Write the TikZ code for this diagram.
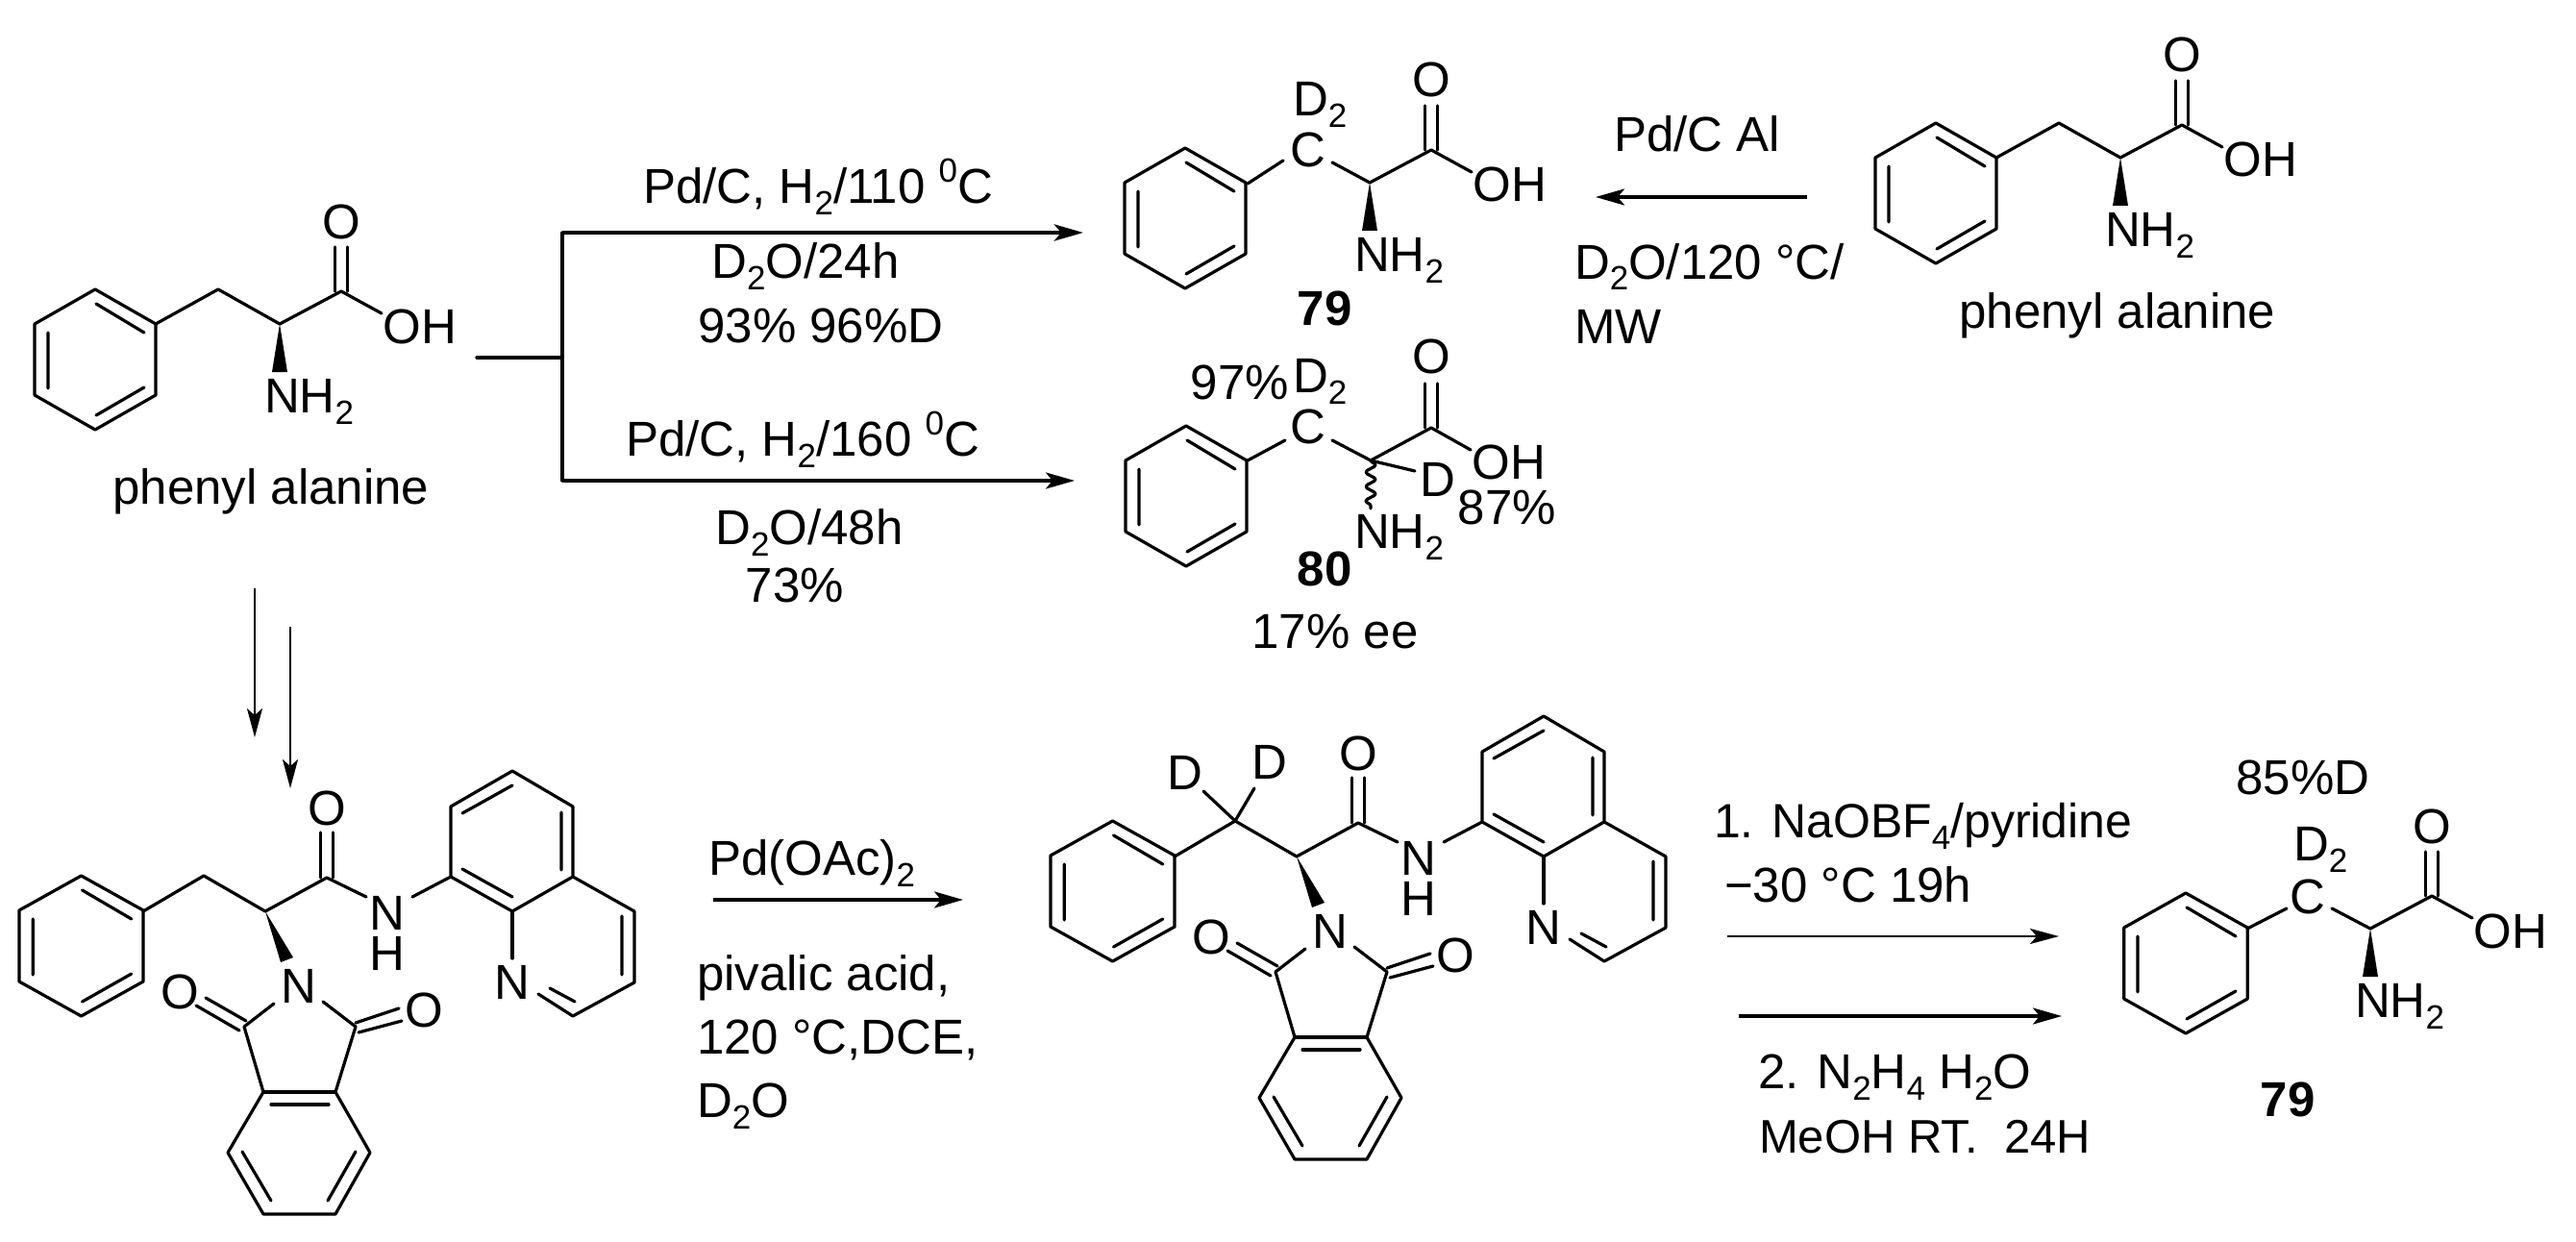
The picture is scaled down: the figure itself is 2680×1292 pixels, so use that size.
\documentclass[tikz,border=0pt]{standalone}
\usepackage{fontspec}
\setmainfont{Liberation Sans}
\usetikzlibrary{arrows.meta,decorations.pathmorphing}
\newcommand\subt[1]{\raisebox{-12pt}{\fontsize{35}{35}\selectfont #1}}
\newcommand\supt[1]{\raisebox{22pt}{\fontsize{35}{35}\selectfont #1}}
\tikzset{
  bond/.style={line width=3.2pt,line join=round,line cap=round,black},
  txt/.style={inner sep=0pt,outer sep=0pt,font=\fontsize{51}{60}\selectfont,anchor=base,black},
  txtl/.style={txt,anchor=base west},
  txtr/.style={txt,anchor=base east},
  tight/.style={txt,text height=36pt,text depth=0pt},
  arr/.style={line width=3.4pt,-{Stealth[length=30pt,width=17pt,inset=7pt]}},
  thinarr/.style={line width=2.4pt,-{Stealth[length=30pt,width=16pt,inset=7pt]}},
  fork/.style={line width=3.2pt,line cap=round}
}
% benzene ring: centre x, centre y, horizontal scale
\newcommand\phring[3]{%
  \begin{scope}[shift={(#1,#2)},xscale=#3]
    \draw[bond] (0,-73)--(63,-37)--(63,37)--(0,73)--(-63,37)--(-63,-37)--cycle;
    \draw[bond] (1,-58)--(51,-28) (-49,-28)--(-49,30) (1,58)--(51,29);
  \end{scope}}
% amino-acid end: prefix, dx, dy
\newcommand\acid[3]{%
  \begin{scope}[shift={(#2,#3)}]
    \draw[bond] (291,337)--(355,303)--(397,326);
    \draw[bond] (348.5,303)--(348.5,257) (361.5,303)--(361.5,257);
    \fill[black] (291,337)--(283,387)--(299,387)--cycle;
    \node[txt] (#1O) at (355,248) {O};
    \node[txt] (#1OH) at (437,357) {OH};
    \node[txtl] (#1N) at (275,429) {NH\subt{2}};
  \end{scope}}
% protected amide: prefix, dx, dy
\newcommand\amide[3]{%
  \begin{scope}[shift={(#2,#3)}]
    \phring{84.5}{984}{1.025}
    \draw[bond] (149,948)--(212,911)--(276,948)--(340,913)--(381,933);
    \draw[bond] (333.5,913)--(333.5,866) (346.5,913)--(346.5,866);
    \fill[black] (276,948)--(292,1001)--(305,996)--cycle;
    \draw[bond] (429,933)--(469,912);
    % quinoline
    \draw[bond] (469,912)--(469,839)--(533,802)--(596,839)--(596,912)--(533,948)--cycle;
    \draw[bond] (481,846)--(533,817) (584,845)--(584,905) (481,904)--(533,933);
    \draw[bond] (596,912)--(660,948)--(660,1022)--(596,1057)--(560,1034);
    \draw[bond] (647,953)--(647,1014) (572,1028)--(598,1042);
    \draw[bond] (533,948)--(533,997);
    % phthalimide
    \draw[bond] (285,1044)--(254,1068)--(274,1136)--(237,1199)--(274,1263)--(349,1263)--(385,1199)--(349,1136)--(370,1068)--(336,1042);
    \draw[bond] (274,1136)--(349,1136) (282,1149)--(342,1149);
    \draw[bond] (252,1198)--(282,1249) (341,1249)--(370,1198);
    \draw[bond] (214,1038)--(256,1062) (204,1046)--(249,1072);
    \draw[bond] (370,1064)--(415,1049) (373,1074)--(418,1062);
    \node[tight] (#1O) at (340,858) {O};
    \node[tight] (#1Nh) at (403,967) {N};
    \node[tight] (#1H) at (403,1009) {H};
    \node[tight] (#1Nq) at (533,1039) {N};
    \node[tight] (#1Ni) at (311,1043) {N};
    \node[tight] (#1Ol) at (187,1049) {O};
    \node[tight] (#1Or) at (441,1068) {O};
  \end{scope}}
\begin{document}
\begin{tikzpicture}[x=1pt,y=-1pt]
\useasboundingbox[fill=white] (0,0) rectangle (2680,1292);
% ---------- top-left phenylalanine
\phring{99}{374}{1}
\draw[bond] (162,337)--(227,301)--(291,337);
\acid{a}{0}{0}
\node[txt] (labA) at (282,524) {phenyl alanine};
% ---------- forked arrows
\coordinate (forkS) at (496,372);
\coordinate (forkM) at (585,372);
\coordinate (forkT) at (585,242);
\coordinate (forkB) at (585,500);
\coordinate (tipT) at (1127,242);
\coordinate (tipB) at (1118,500);
\draw[fork] (forkS)--(forkM);
\draw[fork] (forkT)--(forkB);
\draw[arr,line width=4.6pt] (forkT)--(tipT);
\draw[arr] (forkB)--(tipB);
\node[txt] (t1) at (851,212) {Pd/C, H\subt{2}/110 \supt{0}C};
\node[txt] (t2) at (838,289) {D\subt{2}O/24h};
\node[txt] (t3) at (854,356) {93\% 96\%D};
\node[txt] (t4) at (835,474) {Pd/C, H\subt{2}/160 \supt{0}C};
\node[txt] (t5) at (842,566) {D\subt{2}O/48h};
\node[txt] (t6) at (827,626) {73\%};
% ---------- product 79 (top)
\phring{1233}{227}{1}
\draw[bond] (1298,191)--(1335,167) (1386,169)--(1425,190);
\acid{b}{1134}{-147}
\node[txt] (bC) at (1361,174) {C};
\node[txtl] (bD) at (1345,121) {D\subt{2}};
\node[txt] (b79) at (1378,338) {\bfseries 79};
% ---------- product 80
\phring{1234}{516}{1}
\draw[bond] (1298,479)--(1337,458) (1386,458)--(1426,479);
\draw[bond] (1426,479)--(1489,445)--(1530,468);
\draw[bond] (1482.5,445)--(1482.5,399) (1495.5,445)--(1495.5,399);
\draw[bond] (1426,479)--(1472,490);
\draw[bond,decorate,decoration={snake,amplitude=5pt,segment length=15pt}] (1426,479)--(1426,529);
\node[txt] (cO) at (1489,388) {O};
\node[txt] (cOH) at (1570,498) {OH};
\node[txt] (cD) at (1496,516) {D};
\node[txtl] (cN) at (1409,570) {NH\subt{2}};
\node[txt] (cC) at (1361,461) {C};
\node[txtl] (cD2) at (1345,408) {D\subt{2}};
\node[txtr] (c97) at (1341,415) {97\%};
\node[txt] (c87) at (1568,545) {87\%};
\node[txt] (c80) at (1378,609) {\bfseries 80};
\node[txt] (cee) at (1389,674) {17\% ee};
% ---------- top-right phenylalanine
\phring{2014}{201}{1}
\draw[bond] (2077,164)--(2142,128)--(2206,164);
\acid{d}{1915}{-173}
\node[txt] (labD) at (2203,341) {phenyl alanine};
\coordinate (rS) at (1880,205);
\coordinate (rE) at (1660,205);
\draw[arr] (rS)--(rE);
\node[txtl] (r1) at (1679,158) {Pd/C Al};
\node[txtl] (r2) at (1638,290) {D\subt{2}O/120 °C/};
\node[txtl] (r3) at (1638,357) {MW};
% ---------- two down arrows
\coordinate (d1s) at (265,612);
\coordinate (d1e) at (265,767);
\coordinate (d2s) at (302,652);
\coordinate (d2e) at (302,820);
\draw[thinarr] (d1s)--(d1e);
\draw[thinarr] (d2s)--(d2e);
% ---------- amides
\amide{e}{0}{0}
\amide{f}{1073}{-57}
\draw[bond] (1285,854)--(1252,823) (1285,854)--(1305,820);
\node[txt] (fD1) at (1233,821) {D};
\node[txt] (fD2) at (1321,810) {D};
% ---------- Pd(OAc)2 arrow
\coordinate (pS) at (742,936);
\coordinate (pE) at (1002,936);
\draw[arr] (pS)--(pE);
\node[txtl] (p1) at (737,910) {Pd(OAc)\subt{2}};
\node[txtl] (p2) at (725,1030) {pivalic acid,};
\node[txtl] (p3) at (725,1096) {120 °C,DCE,};
\node[txtl] (p4) at (725,1162) {D\subt{2}O};
% ---------- final step
\coordinate (q1s) at (1797,974);
\coordinate (q1e) at (2142,974);
\coordinate (q2s) at (1809,1057);
\coordinate (q2e) at (2145,1057);
\draw[thinarr] (q1s)--(q1e);
\draw[arr] (q2s)--(q2e);
\node[txtl,font=\fontsize{50}{60}\selectfont] (q1) at (1783,871) {1. NaOBF\subt{4}/pyridine};
\node[txtl] (q2) at (1794,938) {−30 °C 19h};
\node[txtl] (q3) at (1829,1132) {2. N\subt{2}H\subt{4} H\subt{2}O};
\node[txtl,font=\fontsize{49}{60}\selectfont] (q4) at (1830,1199) {MeOH RT.\ \ 24H};
% ---------- product 79 (bottom)
\phring{2274}{1002}{1.02}
\draw[bond] (2338,966)--(2379,945) (2426,945)--(2466,966);
\acid{g}{2175}{629}
\node[txt] (gC) at (2401,950) {C};
\node[txtl] (gD) at (2386,895) {D\subt{2}};
\node[txt] (g85) at (2396,826) {85\%D};
\node[txt] (g79) at (2380,1161) {\bfseries 79};
\end{tikzpicture}
\end{document}
